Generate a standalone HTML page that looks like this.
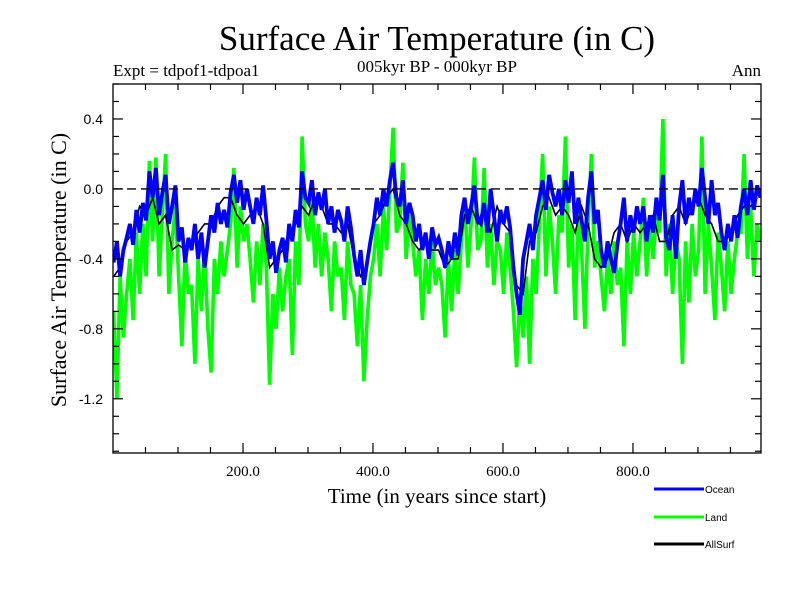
<!DOCTYPE html>
<html><head><meta charset="utf-8"><style>
html,body{margin:0;padding:0;background:#fff;width:800px;height:600px;overflow:hidden}
svg text{font-family:"Liberation Serif",serif;fill:#000}
.sans{font-family:"Liberation Sans",sans-serif}
</style></head><body>
<svg id="chart" width="800" height="600" xmlns="http://www.w3.org/2000/svg">
<text x="437" y="50" font-size="35" text-anchor="middle">Surface Air Temperature (in C)</text>
<text x="113" y="76" font-size="17">Expt = tdpof1-tdpoa1</text>
<text x="437" y="72" font-size="17" text-anchor="middle">005kyr BP - 000kyr BP</text>
<text x="761" y="76" font-size="17" text-anchor="end">Ann</text>
<text transform="translate(66,270) rotate(-90)" font-size="22" text-anchor="middle">Surface Air Temperature (in C)</text>
<text x="437" y="503" font-size="21" text-anchor="middle">Time (in years since start)</text>
<g id="series"></g>
<g id="axes"></g>
<g id="legend">
<line x1="654" y1="489" x2="704" y2="489" stroke="#0000ff" stroke-width="3"/>
<text class="sans" x="705" y="493" font-size="10">Ocean</text>
<line x1="654" y1="517" x2="704" y2="517" stroke="#00ff00" stroke-width="3"/>
<text class="sans" x="705" y="521" font-size="10">Land</text>
<line x1="654" y1="544" x2="704" y2="544" stroke="#000" stroke-width="3"/>
<text class="sans" x="705" y="548" font-size="10">AllSurf</text>
</g>
</svg>
<script>
const yTicks=[0.4,0.0,-0.4,-0.8,-1.2];
const yTickLabels=["0.4","0.0","-0.4","-0.8","-1.2"];
const xTicks=[200,400,600,800];
const xTickLabels=["200.0","400.0","600.0","800.0"];
const oceanStep=5;
const ocean=[-0.42,-0.3,-0.5,-0.35,-0.28,
-0.2,-0.32,-0.12,-0.25,-0.08,-0.18,
0.1,
-0.05,0.12,-0.15,-0.02,0.08,-0.2,-0.1,0.02,
-0.3,-0.22,-0.42,-0.28,
-0.35,-0.2,-0.4,-0.25,-0.45,-0.3,
-0.15,-0.25,-0.08,-0.2,-0.12,-0.22,
-0.02,0.08,-0.08,0.05,-0.12,0.0,
-0.1,-0.2,-0.05,-0.15,0.02,-0.18,
-0.4,-0.3,-0.48,-0.35,-0.28,-0.42,
-0.2,-0.3,-0.12,-0.22,0.1,-0.05,
-0.08,0.05,-0.15,-0.02,-0.12,0.0,
-0.2,-0.1,-0.25,-0.12,
-0.18,-0.3,-0.1,-0.22,
-0.38,-0.5,-0.35,-0.55,-0.42,-0.3,
-0.2,-0.05,-0.15,0.0,-0.1,0.05,0.15,-0.05,
-0.1,0.05,-0.2,-0.08,-0.15,
-0.3,-0.2,-0.35,-0.25,-0.4,-0.22,-0.32,-0.28,
-0.35,-0.45,-0.3,-0.4,-0.25,-0.38,
-0.15,-0.05,-0.2,-0.1,0.02,-0.18,
-0.2,-0.08,-0.25,0.0,-0.15,-0.3,
-0.12,-0.2,-0.1,-0.22,
-0.45,-0.6,-0.72,-0.4,
-0.3,-0.2,-0.35,-0.15,
-0.05,0.05,-0.12,0.08,-0.02,-0.1,0.0,
-0.15,0.05,-0.08,0.1,-0.2,-0.05,
-0.18,-0.3,-0.05,0.1,-0.2,-0.12,
-0.35,-0.45,-0.3,-0.4,-0.48,-0.32,
-0.2,-0.05,-0.3,-0.15,-0.25,-0.1,
-0.2,-0.1,-0.3,-0.15,-0.25,-0.05,
-0.18,0.08,-0.28,-0.35,-0.15,-0.4,
-0.1,0.05,-0.2,-0.05,-0.15,0.0,
-0.1,0.12,-0.05,-0.2,0.05,-0.15,-0.08,
-0.25,-0.35,-0.2,-0.3,-0.15,-0.28,
-0.1,0.0,-0.15,0.05,-0.12,0.02,-0.05];
const landStep=5;
const land=[-0.7,-1.2,-0.5,-0.85,-0.6,
-0.4,-0.75,-0.25,-0.6,-0.2,-0.5,
0.16,
-0.3,0.18,-0.5,-0.15,0.2,-0.6,-0.3,-0.1,
-0.5,-0.9,-0.35,-0.6,
-0.55,-1.0,-0.4,-0.7,-0.35,-0.8,
-1.05,-0.4,-0.6,-0.3,-0.5,-0.35,
-0.2,0.12,-0.45,-0.1,-0.3,-0.2,
-0.4,-0.65,-0.3,-0.55,-0.2,-0.45,
-1.12,-0.6,-0.8,-0.45,-0.7,-0.5,
-0.4,-0.95,-0.3,-0.55,0.3,-0.2,
-0.3,-0.05,-0.45,-0.2,-0.5,-0.25,
-0.4,-0.7,-0.3,-0.5,
-0.45,-0.75,-0.3,-0.55,
-0.6,-0.9,-0.55,-1.1,-0.75,-0.5,
-0.4,-0.2,-0.5,-0.1,-0.35,0.0,0.35,-0.25,
-0.2,0.15,-0.4,-0.15,-0.3,
-0.5,-0.35,-0.75,-0.4,-0.6,-0.3,-0.55,-0.45,
-0.55,-0.85,-0.4,-0.7,-0.35,-0.6,
-0.3,-0.05,-0.45,-0.2,0.18,-0.35,
-0.3,0.12,-0.45,-0.2,-0.55,-0.3,
-0.35,-0.6,-0.25,-0.45,
-0.7,-1.02,-0.6,-0.85,
-0.5,-1.0,-0.4,-0.6,
-0.2,0.2,-0.5,-0.1,-0.3,-0.6,-0.15,
-0.25,0.3,-0.45,-0.2,-0.75,-0.1,
-0.35,-0.8,-0.2,0.2,-0.45,-0.3,
-0.5,-0.7,-0.4,-0.6,-0.3,-0.55,
-0.45,-0.9,-0.3,-0.6,-0.25,-0.5,
-0.3,-0.05,-0.5,-0.2,-0.4,-0.15,
-0.25,0.4,-0.5,-0.2,-0.6,-0.3,
-0.4,-1.0,-0.3,-0.65,-0.2,-0.5,
-0.35,0.3,-0.6,-0.2,-0.45,-0.75,-0.25,
-0.45,-0.7,-0.3,-0.6,-0.4,-0.25,
-0.25,0.2,-0.4,-0.1,-0.5,-0.2,-0.3];
const allStep=10;
const allSurf=[-0.5,-0.45,-0.3,-0.25,-0.1,-0.15,-0.05,-0.2,-0.15,-0.35,
-0.32,-0.35,-0.3,-0.25,-0.2,-0.2,-0.1,-0.05,-0.05,-0.15,
-0.2,-0.15,-0.1,-0.2,-0.45,-0.4,-0.35,-0.25,-0.2,-0.1,
-0.15,-0.05,-0.1,-0.2,-0.2,-0.25,-0.2,-0.4,-0.5,-0.45,
-0.2,-0.15,-0.05,0.0,-0.15,-0.2,-0.3,-0.35,-0.3,-0.35,
-0.35,-0.45,-0.4,-0.4,-0.15,-0.1,-0.2,-0.1,-0.25,-0.1,
-0.2,-0.25,-0.55,-0.6,-0.3,-0.25,-0.1,-0.05,-0.15,-0.1,
-0.15,-0.25,-0.1,-0.2,-0.4,-0.45,-0.4,-0.25,-0.2,-0.3,
-0.2,-0.25,-0.2,-0.15,-0.3,-0.3,-0.15,-0.1,-0.2,-0.1,
-0.05,-0.15,-0.2,-0.3,-0.3,-0.25,-0.15,-0.1,-0.1,-0.05];

const L=113,R=761,T=84,B=453;
const xMin=0,xMax=997,yMin=-1.51,yMax=0.6;
function xs(v){return L+(v-xMin)/(xMax-xMin)*(R-L);}
function ys(v){return B-(v-yMin)/(yMax-yMin)*(B-T);}
const NS='http://www.w3.org/2000/svg';
function mk(tag,attrs,parent){const e=document.createElementNS(NS,tag);for(const k in attrs)e.setAttribute(k,attrs[k]);parent.appendChild(e);return e;}
const sg=document.getElementById('series');
const ag=document.getElementById('axes');

const defs=mk('defs',{},sg);
const cp=mk('clipPath',{id:'clip'},defs);
mk('rect',{x:L,y:T,width:R-L,height:B-T},cp);

function drawLine(arr,step,color,name,w){
  const pts=arr.map((v,i)=>xs(i*step+1).toFixed(1)+','+ys(v).toFixed(1)).join(' ');
  const p=mk('polyline',{points:pts,fill:'none',stroke:color,'stroke-width':w,'stroke-linejoin':'miter','clip-path':'url(#clip)'},sg);
  
  
}
drawLine(land,landStep,'#00ff00','land-series',3.6);
drawLine(allSurf,allStep,'#000000','allsurf-series',1.6);
drawLine(ocean,oceanStep,'#0000ff','ocean-series',3.8);

const z=mk('line',{x1:L,x2:R,y1:ys(0),y2:ys(0),stroke:'#000','stroke-width':1.3,'stroke-dasharray':'9,5'},ag);



const fr=mk('rect',{x:L,y:T,width:R-L,height:B-T,fill:'none',stroke:'#000','stroke-width':1.3},ag);



for(let k=-15;k<=6;k++){
  const v=k/10, y=ys(v);
  if(y<T-0.5||y>B+0.5)continue;
  const major=(k%4===0);
  const len=major?10:6;
  mk('line',{x1:L,x2:L+len,y1:y,y2:y,stroke:'#000','stroke-width':1.2},ag);
  mk('line',{x1:R,x2:R-len,y1:y,y2:y,stroke:'#000','stroke-width':1.2},ag);
}
yTicks.forEach((v,i)=>{
  const t=mk('text',{x:103,y:ys(v)+5,'font-size':14,'text-anchor':'end',class:'sans'},ag);
  t.textContent=yTickLabels[i];
  
  
});
for(let v=50;v<1000;v+=50){
  const x=xs(v), major=(v%200===0), len=major?10:6;
  mk('line',{x1:x,x2:x,y1:B,y2:B-len,stroke:'#000','stroke-width':1.2},ag);
  mk('line',{x1:x,x2:x,y1:T,y2:T+len,stroke:'#000','stroke-width':1.2},ag);
}
xTicks.forEach((v,i)=>{
  const t=mk('text',{x:xs(v),y:476,'font-size':15,'text-anchor':'middle'},ag);
  t.textContent=xTickLabels[i];
  
  
});
</script>
</body></html>
